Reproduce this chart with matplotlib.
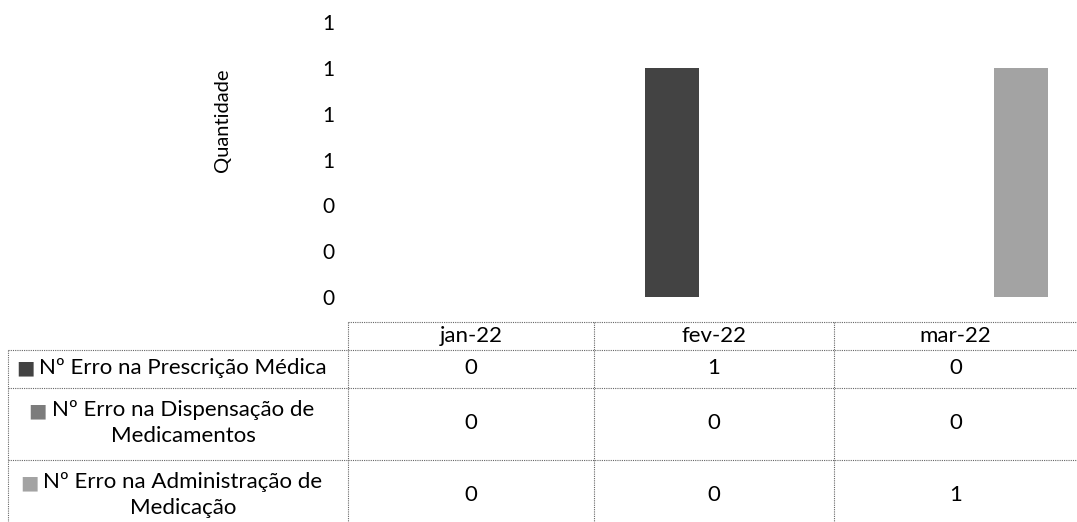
import numpy as np
import matplotlib.pyplot as plt

plt.rcParams['font.family'] = ['Lato', 'DejaVu Sans']

meses = ['jan-22', 'fev-22', 'mar-22']
series = ['Nº Erro na Prescrição Médica',
          'Nº Erro na Dispensação de\nMedicamentos',
          'Nº Erro na Administração de\nMedicação']
prescricao = [0, 1, 0]
dispensacao = [0, 0, 0]
administracao = [0, 0, 1]
valores = [prescricao, dispensacao, administracao]
cores = ['#434343', '#7c7c7c', '#a3a3a3']
yticks = [0, 0.2, 0.4, 0.6, 0.8, 1.0, 1.2]

W, H = 1077, 522
fig = plt.figure(figsize=(W / 100, H / 100), dpi=100)

# chart area (pixel layout of the reference)
left, right, top, bottom = 348, 1077, 22, 297
ax = fig.add_axes([left / W, 1 - bottom / H, (right - left) / W, (bottom - top) / H])
x = np.arange(len(meses))
w = 0.225
offsets = [-0.166, 0.05, 0.27]
for vals, off, c in zip(valores, offsets, cores):
    ax.bar(x + off, vals, width=w, color=c, edgecolor='none')
ax.set_xlim(-0.5, len(meses) - 0.5)
ax.set_ylim(0, 1.2)
ax.set_yticks(yticks)
ax.set_yticklabels([f'{v:.0f}' for v in yticks], fontsize=15)
ax.tick_params(axis='y', length=0, pad=10)
ax.set_xticks([])
for s in ax.spines.values():
    s.set_visible(False)
fig.text(222 / W, 1 - 120 / H, 'Quantidade', rotation=90, ha='center', va='center', fontsize=14.5)

# data table below the chart
tab = fig.add_axes([0, 0, 1, 1])
tab.set_xlim(0, W)
tab.set_ylim(H, 0)
tab.axis('off')
col_edges = [348, 594, 834, 1077]
row_edges = [350, 388, 460, 540]
lk = dict(color='#666666', lw=0.8, ls=(0, (1, 1)))
tab.plot([348, W], [322, 322], **lk)
for y in row_edges[:-1]:
    tab.plot([8, W], [y, y], **lk)
tab.plot([8, 8], [350, H], **lk)
for xe in col_edges[:-1]:
    tab.plot([xe, xe], [322, H], **lk)

fs = 16
for i, m in enumerate(meses):
    cx = (col_edges[i] + col_edges[i + 1]) / 2
    tab.text(cx, 336, m, ha='center', va='center', fontsize=fs)

fig.canvas.draw()
rend = fig.canvas.get_renderer()
for r, (nome, vals, c) in enumerate(zip(series, valores, cores)):
    cy = (row_edges[r] + min(row_edges[r + 1], 532)) / 2 - 1
    t = tab.text(183, cy, nome, ha='center', va='center', fontsize=fs,
                 linespacing=1.4, multialignment='center')
    bb = t.get_window_extent(rend).transformed(tab.transData.inverted())
    ytop = min(bb.y0, bb.y1)
    nlin = nome.count('\n') + 1
    lh = abs(bb.y1 - bb.y0) / nlin
    tab.text(bb.x0 - 5, ytop + lh / 2, '\u25A0', ha='right', va='center',
             fontsize=fs - 2, color=c)
    for i, v in enumerate(vals):
        cx = (col_edges[i] + col_edges[i + 1]) / 2
        tab.text(cx, cy, str(v), ha='center', va='center', fontsize=fs)

fig.savefig('out.png', dpi=100)
